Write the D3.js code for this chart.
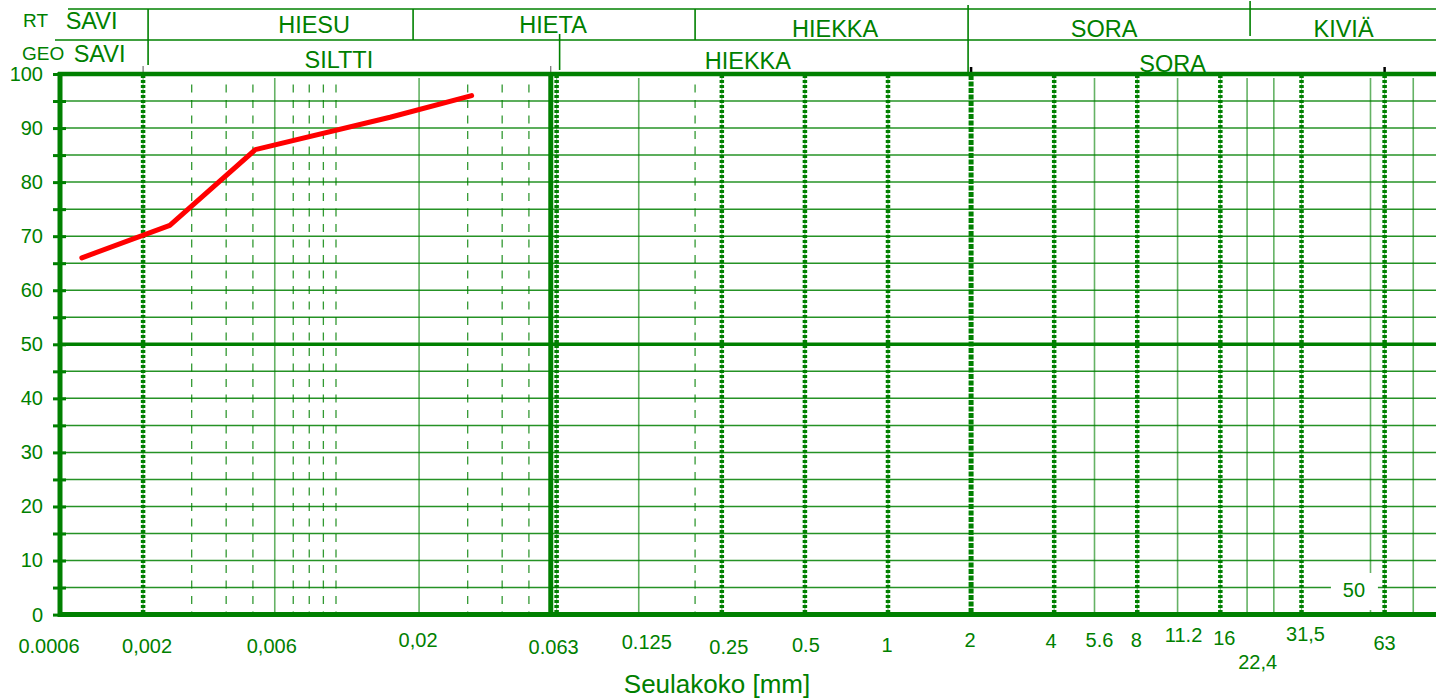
<!DOCTYPE html>
<html>
<head>
<meta charset="utf-8">
<script src="https://cdn.jsdelivr.net/npm/d3@7.9.0/dist/d3.min.js"></script>
<style>
  body { margin: 0; background: #fff; }
  svg { display: block; font-family: "Liberation Sans", Arial, sans-serif; }
</style>
</head>
<body>
<div id="chart"></div>
<script>
const width = 1436, height = 699;
const green = '#008000';

// measured curve: sieve size (mm) vs passing (%)
const sizes = [0.0012, 0.0025, 0.0051, 0.0157, 0.031];
const passing = [66, 72, 86, 92, 96];

// horizontal grid
const percentTicks = d3.range(0, 101, 5);

// vertical grid, grouped by line style
const thickSolid = [0.06];
const thickDotted = [0.002, 0.063, 0.25, 0.5, 1, 4, 8, 16, 31.5, 63];
const heavyDashed = [2];
const thinSolid = [0.006, 0.02, 0.125, 5.6, 11.2, 20, 25, 56, 80];
const thinDashed = [0.003, 0.004, 0.005, 0.007, 0.008, 0.009, 0.01, 0.03, 0.04, 0.05, 0.2];

// x tick labels
const xTickValues = [0.001, 0.002, 0.006, 0.02, 0.063, 0.125, 0.25, 0.5, 1, 2, 4, 5.6, 8, 11.2, 16, 22.4, 31.5, 63];
const xTickText = ['0.0006', '0,002', '0,006', '0,02', '0.063', '0.125', '0.25', '0.5', '1', '2', '4', '5.6', '8', '11.2', '16', '22,4', '31,5', '63'];
const xTickDx = [-11, 4, -3, -1, -3, 8, 7, 1, -1, -1, -3, 5, -1, 6, 4, -3, 4, 0];
const xTickBaseline = [653, 653, 653, 647, 654, 649, 654, 652, 652, 647, 648, 647, 647, 642, 645, 669, 641, 650];

// classification rows
const rtBounds = [0.002, 0.02, 0.2, 2, 20];
const rtNames = ['SAVI', 'HIESU', 'HIETA', 'HIEKKA', 'SORA', 'KIVIÄ'];
const geoBounds = [0.002, 0.063, 2];
const geoNames = ['SAVI', 'SILTTI', 'HIEKKA', 'SORA'];

const xScale = d3.scaleLog().domain([0.001, 100]).range([60, 1440]);
const yScale = d3.scaleLinear().domain([0, 100]).range([614.6, 74]);

const svg = d3.select('#chart')
  .append('svg')
  .attr('width', width)
  .attr('height', height)
  .attr('viewBox', `0 0 ${width} ${height}`);

function drawVerticals(values, opts) {
  svg.append('g')
    .selectAll('line')
    .data(values)
    .join('line')
    .attr('x1', d => xScale(d))
    .attr('x2', d => xScale(d))
    .attr('y1', opts.y1)
    .attr('y2', opts.y2)
    .attr('stroke', opts.color || green)
    .attr('stroke-width', opts.w)
    .attr('stroke-dasharray', opts.dash || null)
    .attr('stroke-dashoffset', opts.offset || 0)
    .attr('opacity', opts.opacity || 1);
}

function renderGrid() {
  // horizontal lines
  svg.append('g')
    .selectAll('line')
    .data(percentTicks.filter(d => d > 0 && d < 100))
    .join('line')
    .attr('x1', 60)
    .attr('x2', width)
    .attr('y1', d => yScale(d))
    .attr('y2', d => yScale(d))
    .attr('stroke', green)
    .attr('stroke-width', d => d === 50 ? 3.5 : 1.5)
    .attr('opacity', d => d === 50 ? 1 : 0.85);

  drawVerticals(thinDashed, { y1: 78, y2: 612, w: 1.3, dash: '8,7.5', offset: 9, opacity: 0.8 });
  drawVerticals(thinSolid, { y1: 78, y2: 612, w: 1.6, opacity: 0.6 });
  drawVerticals(thickDotted, { y1: 75, y2: 614, w: 1.2, opacity: 0.5 });
  drawVerticals(thickDotted, { y1: 75, y2: 614, w: 4.5, dash: '3,2' });
  drawVerticals(heavyDashed, { y1: 75, y2: 614, w: 5, dash: '5,1.5' });
  drawVerticals(thickSolid, { y1: 72, y2: 617, w: 5 });

  // small dark marks above the frame
  svg.append('g')
    .selectAll('line')
    .data([0.002, 0.06])
    .join('line')
    .attr('x1', d => xScale(d)).attr('x2', d => xScale(d))
    .attr('y1', 66).attr('y2', 73)
    .attr('stroke', '#555').attr('stroke-width', 1);
  svg.append('g')
    .selectAll('line')
    .data([2, 63])
    .join('line')
    .attr('x1', d => xScale(d)).attr('x2', d => xScale(d))
    .attr('y1', 67).attr('y2', 75)
    .attr('stroke', '#000').attr('stroke-width', 2.5);
}

function renderFrame() {
  svg.append('line')
    .attr('x1', 58).attr('x2', width)
    .attr('y1', yScale(100)).attr('y2', yScale(100))
    .attr('stroke', green).attr('stroke-width', 4.5);
  svg.append('line')
    .attr('x1', 58).attr('x2', width)
    .attr('y1', yScale(0)).attr('y2', yScale(0))
    .attr('stroke', green).attr('stroke-width', 5);
  svg.append('line')
    .attr('x1', 60).attr('x2', 60)
    .attr('y1', 72).attr('y2', 617)
    .attr('stroke', green).attr('stroke-width', 5);

  const yAxis = d3.axisLeft(yScale)
    .tickValues(percentTicks)
    .tickSizeInner(7)
    .tickSizeOuter(0)
    .tickPadding(10)
    .tickFormat(d => d % 10 === 0 ? d : '');

  const g = svg.append('g').attr('transform', 'translate(60,0)').call(yAxis);
  g.select('.domain').remove();
  g.selectAll('.tick line').attr('x1', 6).attr('stroke', green).attr('stroke-width', 3);
  g.selectAll('.tick text')
    .attr('fill', green)
    .style('font-size', '20px')
    .style('font-family', '"Liberation Sans", Arial, sans-serif');
}

function renderCurve() {
  const pts = sizes.map((s, i) => [s, passing[i]]);
  const line = d3.line().x(d => xScale(d[0])).y(d => yScale(d[1]));
  svg.append('path')
    .datum(pts)
    .attr('d', line)
    .attr('fill', 'none')
    .attr('stroke', '#ff0000')
    .attr('stroke-width', 5)
    .attr('stroke-linejoin', 'round')
    .attr('stroke-linecap', 'round');
}

function renderXLabels() {
  svg.append('g')
    .selectAll('text')
    .data(xTickValues)
    .join('text')
    .attr('x', (d, i) => xScale(d) + xTickDx[i])
    .attr('y', (d, i) => xTickBaseline[i])
    .attr('text-anchor', 'middle')
    .attr('fill', green)
    .style('font-size', '20px')
    .text((d, i) => xTickText[i]);

  // "50" label with white box over the grid
  const x50 = xScale(50);
  svg.append('rect')
    .attr('x', x50 - 26).attr('y', 573)
    .attr('width', 47).attr('height', 37)
    .attr('fill', '#fff');
  svg.append('text')
    .attr('x', x50 - 3).attr('y', 597)
    .attr('text-anchor', 'middle')
    .attr('fill', green)
    .style('font-size', '20px')
    .text('50');

  svg.append('text')
    .attr('x', 717).attr('y', 693)
    .attr('text-anchor', 'middle')
    .attr('fill', green)
    .style('font-size', '26px')
    .text('Seulakoko [mm]');
}

function renderHeader() {
  const hdr = svg.append('g');
  hdr.append('line').attr('x1', 68).attr('x2', width).attr('y1', 9).attr('y2', 9)
    .attr('stroke', green).attr('stroke-width', 1.6);
  hdr.append('line').attr('x1', 55).attr('x2', width).attr('y1', 40).attr('y2', 40)
    .attr('stroke', green).attr('stroke-width', 1.6);

  // dividers
  const rtDx = [5, -6, 0, -3, 3];
  const rtY1 = [9, 9, 9, 5, 1];
  const rtY2 = [65, 40, 40, 73, 36];
  hdr.append('g').selectAll('line')
    .data(rtBounds)
    .join('line')
    .attr('x1', (d, i) => xScale(d) + rtDx[i])
    .attr('x2', (d, i) => xScale(d) + rtDx[i])
    .attr('y1', (d, i) => rtY1[i])
    .attr('y2', (d, i) => rtY2[i])
    .attr('stroke', green).attr('stroke-width', 1.6);
  hdr.append('line')
    .attr('x1', xScale(0.063) + 3).attr('x2', xScale(0.063) + 3)
    .attr('y1', 34).attr('y2', 70)
    .attr('stroke', green).attr('stroke-width', 1.6);

  // labels, centred between class bounds
  const rtEdges = [0.001, ...rtBounds, 100];
  const rtLabelDx = [-10, 33, -4, 2, -5, 0];
  const rtBase = [29, 33, 33, 37, 37, 37];
  hdr.append('g').selectAll('text')
    .data(rtNames)
    .join('text')
    .attr('x', (d, i) => (xScale(rtEdges[i]) + xScale(rtEdges[i + 1])) / 2 + rtLabelDx[i])
    .attr('y', (d, i) => rtBase[i])
    .attr('text-anchor', 'middle')
    .attr('fill', green)
    .style('font-size', '23.5px')
    .text(d => d);

  const geoEdges = [0.001, ...geoBounds, 100];
  const geoLabelDx = [-2, -11, -16, -33];
  const geoBase = [62, 68, 69, 72];
  hdr.append('g').selectAll('text')
    .data(geoNames)
    .join('text')
    .attr('x', (d, i) => (xScale(geoEdges[i]) + xScale(geoEdges[i + 1])) / 2 + geoLabelDx[i])
    .attr('y', (d, i) => geoBase[i])
    .attr('text-anchor', 'middle')
    .attr('fill', green)
    .style('font-size', '23.5px')
    .text(d => d);

  hdr.append('text')
    .attr('x', 23).attr('y', 26.5)
    .attr('fill', green)
    .style('font-size', '19px')
    .text('RT');
  hdr.append('text')
    .attr('x', 22).attr('y', 60)
    .attr('fill', green)
    .style('font-size', '19px')
    .text('GEO');
}

renderGrid();
renderFrame();
renderCurve();
renderXLabels();
renderHeader();
</script>
</body>
</html>
